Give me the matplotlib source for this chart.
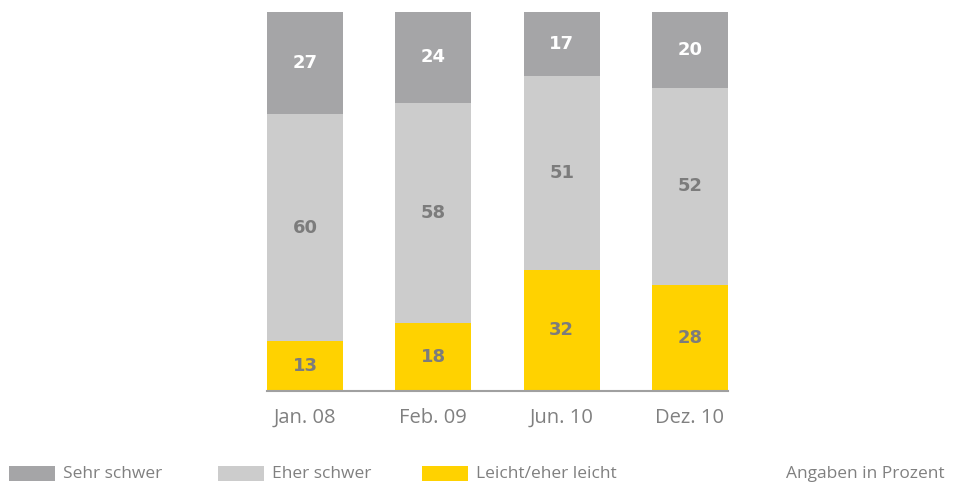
import matplotlib
matplotlib.use("Agg")
import matplotlib.pyplot as plt
from matplotlib.patches import Rectangle
import numpy as np

categories = ["Jan. 08", "Feb. 09", "Jun. 10", "Dez. 10"]
series_names = ["Sehr schwer", "Eher schwer", "Leicht/eher leicht"]
leicht = [13, 18, 32, 28]
eher_schwer = [60, 58, 51, 52]
sehr_schwer = [27, 24, 17, 20]
note = "Angaben in Prozent"

c_dark = "#a5a5a7"
c_light = "#cccccc"
c_yellow = "#ffd200"
txt_gray = "#808080"
num_gray = "#7c7c7c"

plt.rcParams['font.family'] = ['Open Sans', 'DejaVu Sans']

W, H = 963, 490
fig = plt.figure(figsize=(W / 100, H / 100), dpi=100)
ax = fig.add_axes([267 / W, (H - 390.7) / H, 461 / W, 378.7 / H])

x = np.arange(len(categories))
width = 76 / 128
b1 = ax.bar(x, leicht, width, color=c_yellow)
b2 = ax.bar(x, eher_schwer, width, bottom=leicht, color=c_light)
bottom3 = np.array(leicht) + np.array(eher_schwer)
b3 = ax.bar(x, sehr_schwer, width, bottom=bottom3, color=c_dark)

lab_kw = dict(label_type='center', fontsize=13, fontweight='bold', family='DejaVu Sans')
ax.bar_label(b1, color=num_gray, **lab_kw)
ax.bar_label(b2, color=num_gray, **lab_kw)
ax.bar_label(b3, color='white', **lab_kw)

ax.set_xlim(-width / 2, len(categories) - 1 + width / 2)
ax.set_ylim(0, 100)
ax.set_xticks(x)
ax.set_xticklabels(categories, fontsize=14.5, color=txt_gray)
ax.tick_params(axis='x', length=0, pad=12.5)
ax.set_yticks([])
for s in ['top', 'right', 'left']:
    ax.spines[s].set_visible(False)
ax.spines['bottom'].set_color('#a0a0a0')
ax.spines['bottom'].set_linewidth(1.5)

# legend
colors = [c_dark, c_light, c_yellow]
patch_x = [9, 218, 422]
for px, col, name in zip(patch_x, colors, series_names):
    fig.add_artist(Rectangle((px / W, (H - 481) / H), 46 / W, 15 / H,
                             transform=fig.transFigure, color=col, lw=0))
    fig.text((px + 54) / W, (H - 474) / H, name, fontsize=12.5, color=txt_gray,
             ha='left', va='center')
fig.text(945 / W, (H - 474) / H, note, fontsize=12.5, color=txt_gray,
         ha='right', va='center')

fig.savefig("out.png", dpi=100)
